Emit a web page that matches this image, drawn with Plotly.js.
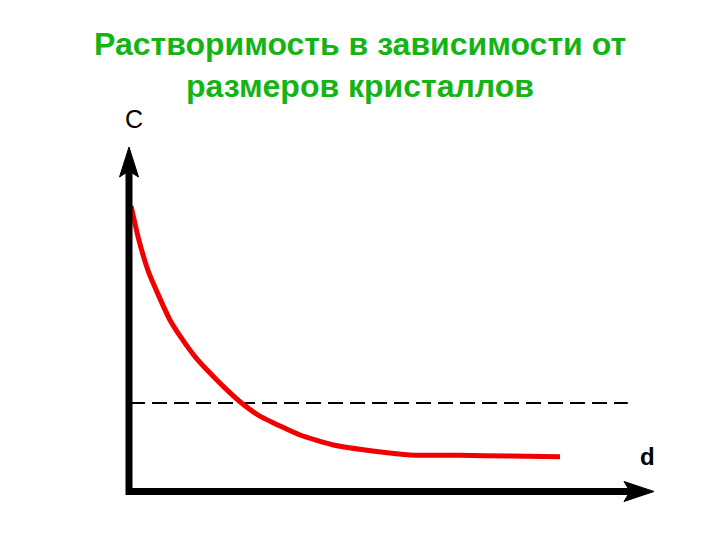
<!DOCTYPE html>
<html>
<head>
<meta charset="utf-8">
<script src="https://cdn.plot.ly/plotly-3.0.1.min.js"></script>
<style>html,body{margin:0;padding:0;background:#fff;}#chart{width:720px;height:540px;}</style>
</head>
<body>
<div id="chart"></div>
<script>
// ---- data ----
const titleLines = ["Растворимость в зависимости от", "размеров кристаллов"];
const yAxisLabel = "С";
const xAxisLabel = "d";
// red curve: solubility C vs crystal size d (arbitrary units)
const sizeD = [0.04, 0.18, 0.37, 0.56, 0.78, 1.00, 1.26, 1.58, 1.83, 2.15, 2.46, 2.91, 3.26, 3.89, 4.72, 5.35, 6.30, 7.26, 8.21];
const solubilityC = [8.29, 7.35, 6.38, 5.70, 4.98, 4.45, 3.91, 3.38, 3.00, 2.56, 2.22, 1.88, 1.64, 1.35, 1.16, 1.06, 1.05, 1.03, 1.01];
// dashed line: solubility of large crystals
const dashD = [0.02, 9.50];
const dashC = [2.57, 2.57];
// drawn axis extents (origin and arrow tips)
const axisD = [0, 10];
const axisC = [0, 10];
// visible window around the drawn axes
const viewD = [-2.457, 11.257];
const viewC = [-1.408, 14.267];

// ---- chart ----
const traces = [
  {x: dashD, y: dashC, mode: 'lines', type: 'scatter',
   line: {color: '#000', width: 2, dash: '15px,7px'}, hoverinfo: 'skip'},
  {x: sizeD, y: solubilityC, mode: 'lines', type: 'scatter',
   line: {color: '#f00000', width: 5, shape: 'spline', smoothing: 0.6}, hoverinfo: 'skip'}
];

const shapes = [
  // axes (L-shaped path)
  {type: 'path', xref: 'x', yref: 'y',
   path: `M ${axisD[0]},${axisC[1] - 0.6} L ${axisD[0]},${axisC[0]} L ${axisD[1] - 0.4},${axisC[0]}`,
   line: {color: '#000', width: 7}, fillcolor: 'rgba(0,0,0,0)'},
  // arrowhead on vertical axis
  {type: 'path', xref: 'x', yref: 'y', xsizemode: 'pixel', ysizemode: 'pixel',
   xanchor: axisD[0], yanchor: axisC[1],
   path: 'M 0,0 L -9.5,-30 L 0,-24 L 9.5,-30 Z',
   line: {color: '#000', width: 1}, fillcolor: '#000'},
  // arrowhead on horizontal axis
  {type: 'path', xref: 'x', yref: 'y', xsizemode: 'pixel', ysizemode: 'pixel',
   xanchor: axisD[1], yanchor: axisC[0],
   path: 'M 0,0 L -30,10 L -24,0 L -30,-10 Z',
   line: {color: '#000', width: 1}, fillcolor: '#000'}
];

const layout = {
  width: 720, height: 540,
  margin: {l: 0, r: 0, t: 0, b: 0, pad: 0},
  paper_bgcolor: '#fff', plot_bgcolor: '#fff',
  showlegend: false,
  title: {
    text: titleLines.join('<br>'),
    font: {family: 'Liberation Sans, Arial, sans-serif', size: 32, color: '#14b414', weight: 'bold'},
    x: 0.5, xanchor: 'center', xref: 'container',
    y: 0.898, yanchor: 'top', yref: 'container'
  },
  xaxis: {range: viewD, visible: false, fixedrange: true},
  yaxis: {range: viewC, visible: false, fixedrange: true},
  shapes: shapes,
  annotations: [
    {text: yAxisLabel, x: 0.1, y: 10.8, xref: 'x', yref: 'y', showarrow: false,
     font: {family: 'Liberation Sans, Arial, sans-serif', size: 25, color: '#000'}},
    {text: xAxisLabel, x: 9.87, y: 1.03, xref: 'x', yref: 'y', showarrow: false,
     font: {family: 'Liberation Sans, Arial, sans-serif', size: 24, color: '#000', weight: 'bold'}}
  ]
};

Plotly.newPlot('chart', traces, layout, {staticPlot: true, displayModeBar: false});
</script>
</body>
</html>
